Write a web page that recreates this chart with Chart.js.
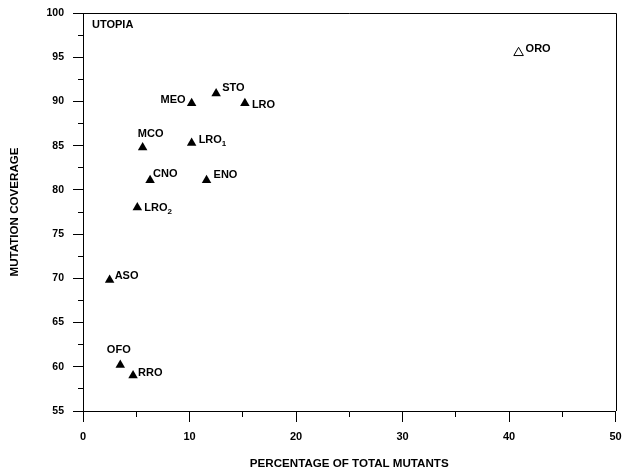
<!DOCTYPE html>
<html>
<head>
<meta charset="utf-8">
<script src="https://cdn.jsdelivr.net/npm/chart.js@4/dist/chart.umd.min.js"></script>
<style>
  html, body { margin: 0; padding: 0; background: #fff; }
  #wrap { width: 622px; height: 475px; position: relative; }
</style>
</head>
<body>
<div id="wrap"><canvas id="c" width="622" height="475"></canvas></div>
<script>
// ---- data ----
const pointNames = ['MEO', 'STO', 'LRO', 'MCO', 'LRO', 'CNO', 'ENO', 'LRO', 'ASO', 'OFO', 'RRO'];
const pointSubs  = ['', '', '', '', '1', '', '', '2', '', '', ''];
const pctMutants = [10.2, 12.5, 15.2, 5.6, 10.2, 6.3, 11.6, 5.1, 2.5, 3.5, 4.7];
const coverage   = [89.8, 90.9, 89.8, 84.8, 85.3, 81.1, 81.1, 78.0, 69.8, 60.2, 59.0];

const openNames = ['ORO'];
const openPct   = [40.9];
const openCov   = [95.5];

const xTitle = 'PERCENTAGE OF TOTAL MUTANTS';
const yTitle = 'MUTATION COVERAGE';
const panelLabel = 'UTOPIA';

// label placement (px offsets from the marker), kept apart from data
const labelPlace = [
  {dx: -6, dy: -3.5, align: 'right'},  // MEO
  {dx: 6,  dy: -5.5, align: 'left'},   // STO
  {dx: 7,  dy: 1.5,  align: 'left'},   // LRO
  {dx: 8,  dy: -13, align: 'center'},  // MCO
  {dx: 7,  dy: -3, align: 'left'},     // LRO1
  {dx: 3,  dy: -6.5, align: 'left'},   // CNO
  {dx: 7,  dy: -5.5, align: 'left'},   // ENO
  {dx: 7,  dy: 0,  align: 'left'},     // LRO2
  {dx: 5,  dy: -4.5, align: 'left'},   // ASO
  {dx: -1.5, dy: -15.5, align: 'center'}, // OFO
  {dx: 5,  dy: -2.5, align: 'left'}    // RRO
];
const openPlace = [{dx: 7, dy: -4, align: 'left'}];

const FONT = '"Liberation Sans", Arial, sans-serif';

const labelPlugin = {
  id: 'pointLabels',
  afterDatasetsDraw(chart) {
    const ctx = chart.ctx;
    const sets = [
      {meta: chart.getDatasetMeta(0), names: pointNames, subs: pointSubs, place: labelPlace},
      {meta: chart.getDatasetMeta(1), names: openNames, subs: [''], place: openPlace}
    ];
    ctx.save();
    ctx.fillStyle = '#000';
    ctx.textBaseline = 'middle';
    sets.forEach(s => {
      s.meta.data.forEach((pt, i) => {
        const p = s.place[i];
        const name = s.names[i];
        const sub = s.subs[i];
        ctx.font = 'bold 11px ' + FONT;
        const w = ctx.measureText(name).width;
        ctx.font = 'bold 8px ' + FONT;
        const ws = sub ? ctx.measureText(sub).width : 0;
        const total = w + ws;
        let x0 = pt.x + p.dx;
        if (p.align === 'right') x0 -= total;
        else if (p.align === 'center') x0 -= total / 2;
        const y0 = pt.y + p.dy;
        ctx.textAlign = 'left';
        ctx.font = 'bold 11px ' + FONT;
        ctx.fillText(name, x0, y0);
        if (sub) {
          ctx.font = 'bold 8px ' + FONT;
          ctx.fillText(sub, x0 + w, y0 + 4);
        }
      });
    });
    // panel label
    const a = chart.chartArea;
    ctx.font = 'bold 11px ' + FONT;
    ctx.textAlign = 'left';
    ctx.fillText(panelLabel, a.left + 9, a.top + 12);
    // frame: top and right
    ctx.strokeStyle = '#000';
    ctx.lineWidth = 1;
    ctx.beginPath();
    ctx.moveTo(a.left, Math.round(a.top) + 0.5);
    ctx.lineTo(Math.round(a.right) + 0.5, Math.round(a.top) + 0.5);
    ctx.lineTo(Math.round(a.right) + 0.5, a.bottom);
    ctx.stroke();
    ctx.restore();
  }
};

const isMajor = (v, step) => Math.abs(v / step - Math.round(v / step)) < 1e-6;

new Chart(document.getElementById('c'), {
  type: 'scatter',
  data: {
    datasets: [
      {
        data: pctMutants.map((x, i) => ({x: x, y: coverage[i]})),
        pointStyle: 'triangle',
        radius: 5.5,
        backgroundColor: '#000',
        borderColor: '#000',
        borderWidth: 0
      },
      {
        data: openPct.map((x, i) => ({x: x, y: openCov[i]})),
        pointStyle: 'triangle',
        radius: 5.5,
        backgroundColor: 'rgba(0,0,0,0)',
        borderColor: '#000',
        borderWidth: 1
      }
    ]
  },
  options: {
    responsive: false,
    animation: false,
    devicePixelRatio: 1,
    layout: { padding: { left: 0, top: 13, right: 5, bottom: 0 } },
    plugins: { legend: { display: false }, tooltip: { enabled: false } },
    scales: {
      x: {
        type: 'linear',
        min: 0, max: 50,
        afterFit(scale) { scale.height = 64; scale.paddingRight = 0; scale.paddingLeft = 0; },
        ticks: {
          stepSize: 5,
          autoSkip: false,
          maxRotation: 0,
          padding: 8,
          color: '#000',
          font: { family: FONT, size: 11, weight: 'bold' },
          callback: (v) => isMajor(v, 10) ? String(v) : ''
        },
        grid: {
          display: true,
          drawOnChartArea: false,
          drawTicks: true,
          tickLength: 11,
          tickColor: '#000',
          tickWidth: 1,
          tickBorderDash: (ctx) => (ctx.tick && isMajor(ctx.tick.value, 10)) ? [] : [5, 30]
        },
        border: { display: true, color: '#000', width: 1 },
        title: {
          display: true,
          text: xTitle,
          color: '#000',
          font: { family: FONT, size: 11.6, weight: 'bold' },
          padding: { top: 0, bottom: 4 }
        }
      },
      y: {
        type: 'linear',
        min: 55, max: 100,
        afterFit(scale) { scale.width = 83; scale.paddingTop = 0; scale.paddingBottom = 0; },
        ticks: {
          stepSize: 2.5,
          autoSkip: false,
          padding: 9,
          color: '#000',
          font: { family: FONT, size: 10.5, weight: 'bold' },
          callback: (v) => isMajor(v, 5) ? String(v) : ''
        },
        grid: {
          display: true,
          drawOnChartArea: false,
          drawTicks: true,
          tickLength: 10,
          tickColor: '#000',
          tickWidth: 1,
          tickBorderDash: (ctx) => (ctx.tick && isMajor(ctx.tick.value, 5)) ? [] : [0, 5, 5, 30]
        },
        border: { display: true, color: '#000', width: 1 },
        title: {
          display: true,
          text: yTitle,
          color: '#000',
          font: { family: FONT, size: 11.6, weight: 'bold' },
          padding: { top: 8, bottom: 0 }
        }
      }
    }
  },
  plugins: [labelPlugin]
});
</script>
</body>
</html>
